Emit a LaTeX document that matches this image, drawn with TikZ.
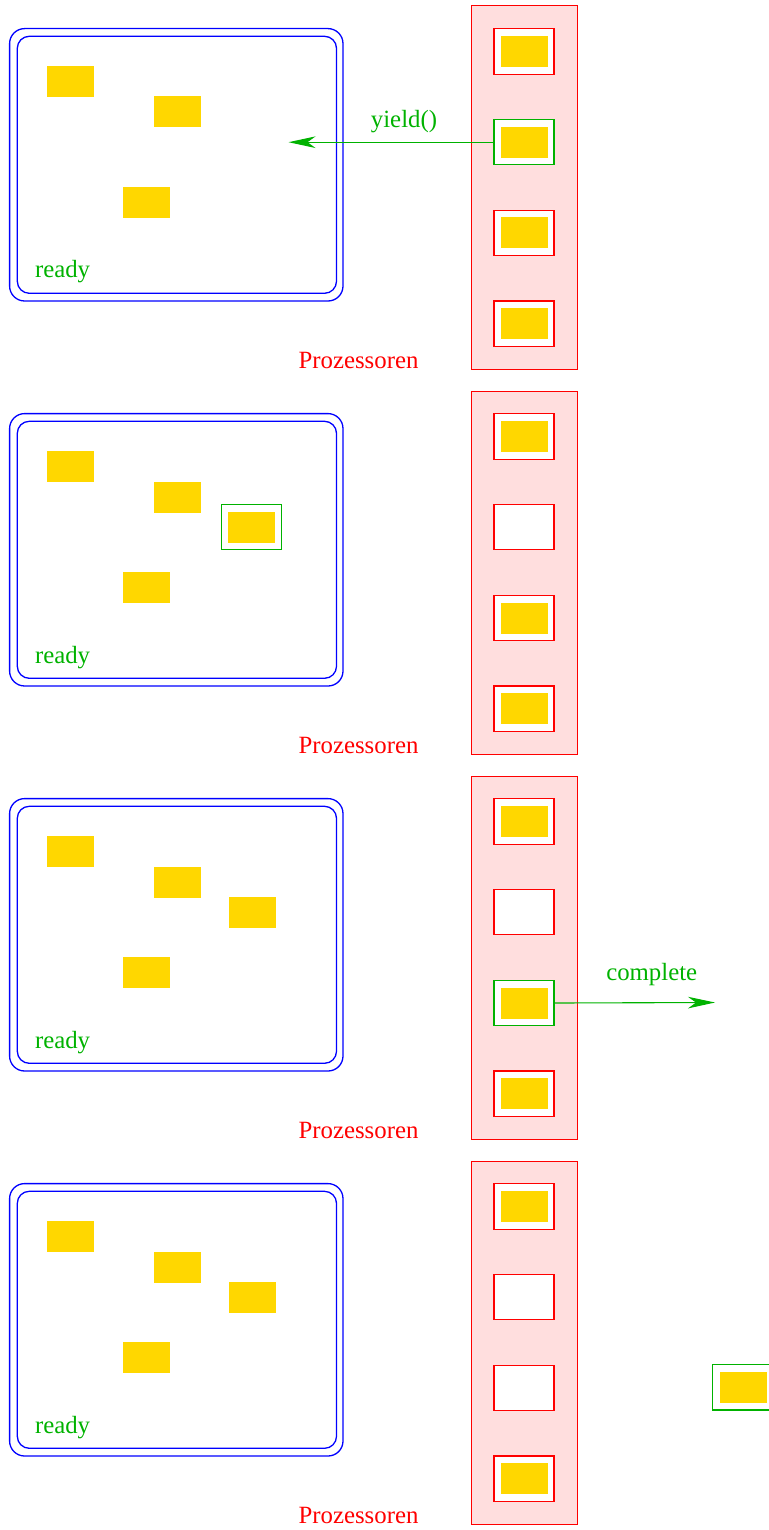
\documentclass[tikz,border=0pt]{standalone}
\usepackage{fontspec}
\setmainfont{Liberation Serif}
\usetikzlibrary{arrows.meta}
\definecolor{fgreen}{RGB}{0,178,0}
\definecolor{fred}{RGB}{255,0,0}
\definecolor{fblue}{RGB}{0,0,255}
\definecolor{fpink}{RGB}{255,222,222}
\definecolor{fgold}{RGB}{255,215,0}
\tikzset{
  readyouter/.style={draw=fblue, line width=0.65pt, rounded corners=7.5pt, minimum width=166.7pt, minimum height=136.2pt, inner sep=0pt},
  readyinner/.style={draw=fblue, line width=0.65pt, rounded corners=6pt, minimum width=159.6pt, minimum height=128.5pt, inner sep=0pt},
  column/.style={draw=fred, fill=fpink, line width=0.5pt, minimum width=53pt, minimum height=181.5pt, inner sep=0pt},
  procbox/.style={draw=fred, fill=white, line width=0.55pt, minimum width=30pt, minimum height=22.7pt, inner sep=0pt},
  greenbox/.style={draw=fgreen, fill=white, line width=0.55pt, minimum width=30pt, minimum height=22.7pt, inner sep=0pt},
  thread/.style={fill=fgold, minimum width=23.5pt, minimum height=15.5pt, inner sep=0pt},
  greentext/.style={text=fgreen, font=\fontsize{12.4}{14}\selectfont, inner sep=0pt},
  redtext/.style={text=fred, font=\fontsize{12.4}{14}\selectfont, inner sep=0pt},
  move/.style={draw=fgreen, line width=0.55pt, -{Stealth[length=13.5pt, width=5.8pt, inset=4pt]}}
}
\begin{document}
\begin{tikzpicture}[x=0.5pt,y=-0.5pt]
\useasboundingbox (0,0) rectangle (768,1530);
\foreach \k in {1,2,3,4}{
  \begin{scope}[shift={(0,{385*(\k-1)})}]
    \node[readyouter] (ro\k) at (176.3,164.8) {};
    \node[readyinner] (ri\k) at (176.9,164.8) {};
    \node[thread] (ta\k) at (70.5,81.7) {};
    \node[thread] (tb\k) at (177,112) {};
    \node[thread] (tc\k) at (146.5,202.7) {};
    \node[greentext, anchor=base west] (rl\k) at (34.6,278) {ready};
    \node[column] (col\k) at (524,187.5) {};
    \node[redtext, anchor=base] (pl\k) at (358.5,368) {Prozessoren};
  \end{scope}
}
% panel 1
\node[procbox] (p1a) at (524,51.5) {};
\node[greenbox] (p1b) at (524,142.2) {};
\node[procbox] (p1c) at (524,233) {};
\node[procbox] (p1d) at (524,323.7) {};
\foreach \n in {p1a,p1b,p1c,p1d} \node[thread] at (\n) {};
\coordinate (y1) at (288.5,142.2);
\draw[move] (p1b.west) -- (y1);
\node[greentext, anchor=base] (yl) at (404,128) {yield()};
% panel 2
\node[procbox] (p2a) at (524,436.5) {};
\node[procbox] (p2b) at (524,527.2) {};
\node[procbox] (p2c) at (524,618) {};
\node[procbox] (p2d) at (524,708.7) {};
\foreach \n in {p2a,p2c,p2d} \node[thread] at (\n) {};
\node[greenbox] (g2) at (251.5,527) {};
\node[thread] at (g2) {};
% panel 3
\node[procbox] (p3a) at (524,821.5) {};
\node[procbox] (p3b) at (524,912.2) {};
\node[greenbox] (p3c) at (524,1003) {};
\node[procbox] (p3d) at (524,1093.7) {};
\foreach \n in {p3a,p3c,p3d} \node[thread] at (\n) {};
\node[thread] (td3) at (252,912) {};
\coordinate (c3) at (715,1002.5);
\draw[move] (p3c.east) -- (c3);
\node[greentext, anchor=base] (cl) at (651.7,980) {complete};
% panel 4
\node[procbox] (p4a) at (524,1206.5) {};
\node[procbox] (p4b) at (524,1297.2) {};
\node[procbox] (p4c) at (524,1388) {};
\node[procbox] (p4d) at (524,1478.7) {};
\foreach \n in {p4a,p4d} \node[thread] at (\n) {};
\node[thread] (td4) at (252,1297) {};
\node[greenbox] (g4) at (742.3,1387.3) {};
\node[thread] at (743.5,1387.3) {};
\end{tikzpicture}
\end{document}
